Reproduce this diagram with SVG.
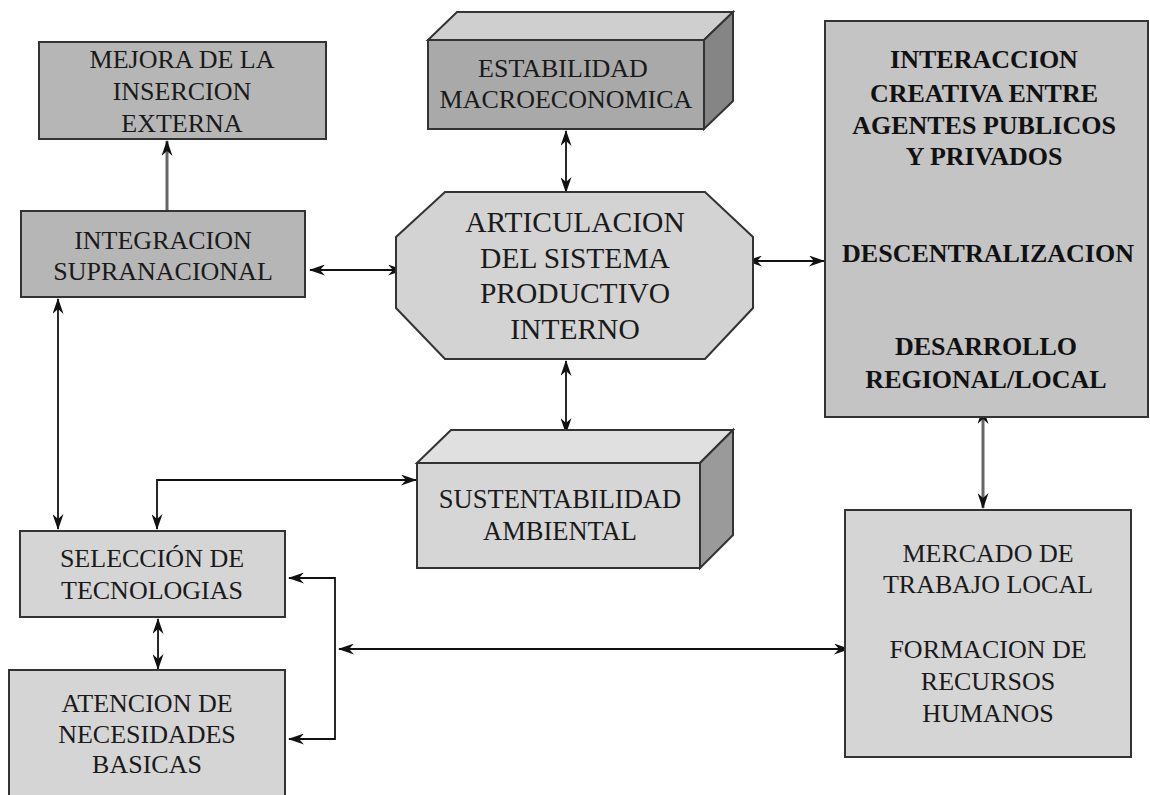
<svg xmlns="http://www.w3.org/2000/svg" width="1150" height="795" viewBox="0 0 1150 795">
<defs>
<style>
.t{font-family:"Liberation Serif","Times New Roman",serif;fill:#1a1a1a;text-anchor:middle}
.b{font-weight:bold;fill:#111}
.box{stroke:#333;stroke-width:2}
.c{fill:none;stroke:#111;stroke-width:1.8}
.cg{fill:none;stroke:#666;stroke-width:3}
</style>
<marker id="ah" viewBox="0 0 16 11" refX="15" refY="5.5" markerWidth="16" markerHeight="11" markerUnits="userSpaceOnUse" orient="auto-start-reverse">
<path d="M0,0 L16,5.5 L0,11 L5,5.5 z" fill="#111"/>
</marker>
</defs>
<rect width="1150" height="795" fill="#fff"/>

<g id="connectors">
<path class="cg" d="M167,211 L167,141" marker-end="url(#ah)"/>
<path class="c" d="M566,131 L566,192" marker-start="url(#ah)" marker-end="url(#ah)"/>
<path class="c" d="M310,270 L403,270" marker-start="url(#ah)" marker-end="url(#ah)"/>
<path class="c" d="M747,261 L824,261" marker-start="url(#ah)" marker-end="url(#ah)"/>
<path class="c" d="M566,361 L566,433" marker-start="url(#ah)" marker-end="url(#ah)"/>
<path class="c" d="M58,299 L58,529" marker-start="url(#ah)" marker-end="url(#ah)"/>
<path class="c" d="M416,480 L157,480 L157,529" marker-start="url(#ah)" marker-end="url(#ah)"/>
<path class="c" d="M158,619 L158,669" marker-start="url(#ah)" marker-end="url(#ah)"/>
<path class="c" d="M289,578 L335,578 L335,739 L289,739" marker-start="url(#ah)" marker-end="url(#ah)"/>
<path class="c" d="M339,649 L849,649" marker-start="url(#ah)" marker-end="url(#ah)"/>
<path class="cg" d="M983,409 L983,508" marker-start="url(#ah)" marker-end="url(#ah)"/>
</g>

<g id="mejora">
<rect class="box" x="39" y="42" width="287" height="97" fill="#b6b6b6"/>
<text class="t" font-size="26" x="182" y="68">MEJORA DE LA</text>
<text class="t" font-size="26" x="182" y="100">INSERCION</text>
<text class="t" font-size="26" x="182" y="132">EXTERNA</text>
</g>

<g id="integracion">
<rect class="box" x="21" y="211" width="284" height="86" fill="#b6b6b6"/>
<text class="t" font-size="26" x="163" y="249">INTEGRACION</text>
<text class="t" font-size="26" x="163" y="280">SUPRANACIONAL</text>
</g>

<g id="estabilidad">
<polygon class="box" points="428,40 457,12 733,12 704,40" fill="#cfcfcf"/>
<polygon class="box" points="704,40 733,12 733,101 704,129" fill="#858585"/>
<rect class="box" x="428" y="40" width="276" height="89" fill="#a9a9a9"/>
<text class="t" font-size="26" x="563" y="77">ESTABILIDAD</text>
<text class="t" font-size="26" x="566" y="108">MACROECONOMICA</text>
</g>

<g id="articulacion">
<polygon class="box" points="445,192 705,192 753,237 753,308 705,359 445,359 396,308 396,237" fill="#d3d3d3"/>
<text class="t" font-size="29.5" x="575" y="232">ARTICULACION</text>
<text class="t" font-size="29.5" x="575" y="268">DEL SISTEMA</text>
<text class="t" font-size="29.5" x="575" y="303">PRODUCTIVO</text>
<text class="t" font-size="29.5" x="575" y="339">INTERNO</text>
</g>

<g id="interaccion">
<rect class="box" x="825" y="21" width="323" height="396" fill="#c4c4c4"/>
<text class="t b" font-size="26" x="984" y="68">INTERACCION</text>
<text class="t b" font-size="26" x="984" y="102">CREATIVA ENTRE</text>
<text class="t b" font-size="26" x="984" y="134">AGENTES PUBLICOS</text>
<text class="t b" font-size="26" x="984" y="165">Y PRIVADOS</text>
<text class="t b" font-size="26" x="988" y="262">DESCENTRALIZACION</text>
<text class="t b" font-size="26" x="986" y="355">DESARROLLO</text>
<text class="t b" font-size="26" x="986" y="388">REGIONAL/LOCAL</text>
</g>

<g id="sustentabilidad">
<polygon class="box" points="417,463 451,430 733,430 700,463" fill="#e0e0e0"/>
<polygon class="box" points="700,463 733,430 733,535 700,568" fill="#9a9a9a"/>
<rect class="box" x="417" y="463" width="283" height="105" fill="#d6d6d6"/>
<text class="t" font-size="26.5" x="560" y="508">SUSTENTABILIDAD</text>
<text class="t" font-size="26.5" x="560" y="540">AMBIENTAL</text>
</g>

<g id="seleccion">
<rect class="box" x="20" y="531" width="265" height="86" fill="#d5d5d5"/>
<text class="t" font-size="26" x="152" y="567">SELECCIÓN DE</text>
<text class="t" font-size="26" x="152" y="599">TECNOLOGIAS</text>
</g>

<g id="atencion">
<rect class="box" x="9" y="670" width="276" height="140" fill="#d5d5d5"/>
<text class="t" font-size="26" x="147" y="712">ATENCION DE</text>
<text class="t" font-size="26" x="147" y="743">NECESIDADES</text>
<text class="t" font-size="26" x="147" y="773">BASICAS</text>
</g>

<g id="mercado">
<rect class="box" x="845" y="510" width="286" height="247" fill="#d5d5d5"/>
<text class="t" font-size="26" x="988" y="562">MERCADO DE</text>
<text class="t" font-size="26" x="988" y="593">TRABAJO LOCAL</text>
<text class="t" font-size="26" x="988" y="658">FORMACION DE</text>
<text class="t" font-size="26" x="988" y="690">RECURSOS</text>
<text class="t" font-size="26" x="988" y="722">HUMANOS</text>
</g>
</svg>
